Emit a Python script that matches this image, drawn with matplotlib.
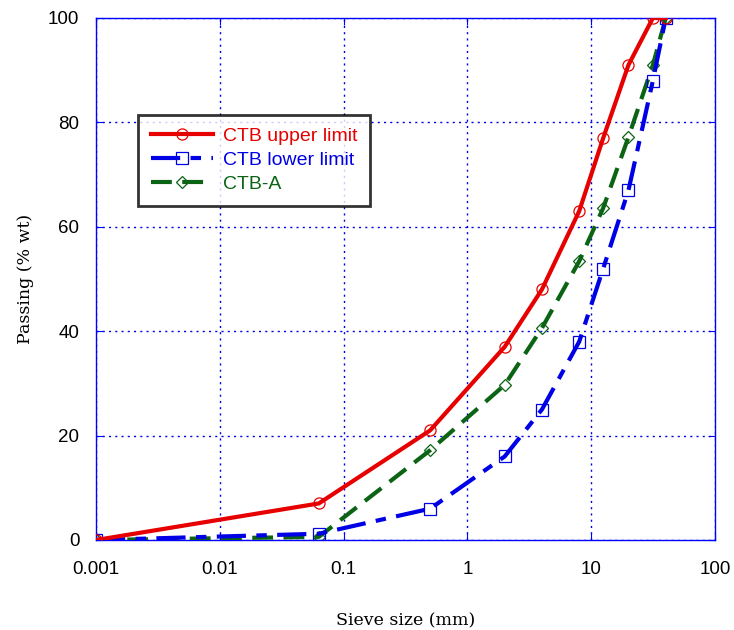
import matplotlib
matplotlib.use("Agg")
import matplotlib.pyplot as plt

sieve = [0.001, 0.063, 0.5, 2, 4, 8, 12.5, 20, 31.5, 40]
upper = [0, 7, 21, 37, 48, 63, 77, 91, 100, 100]
lower = [0, 1.2, 6, 16, 25, 38, 52, 67, 88, 100]
ctb_a = [0, 0.6, 17.2, 29.7, 40.6, 53.4, 63.6, 77.2, 91, 100]

xticks = [0.001, 0.01, 0.1, 1, 10, 100]
xticklabels = ["0.001", "0.01", "0.1", "1", "10", "100"]
yticks = [0, 20, 40, 60, 80, 100]

fig = plt.figure(figsize=(7.34, 6.3), dpi=100)
ax = fig.add_axes([96/734, 1-540/630, (715-96)/734, (540-18)/630])

ax.plot(sieve, upper, color="#e60000", lw=3, marker="o", ms=8, mfc="none",
        mec="#e60000", mew=0.9, label="CTB upper limit", zorder=5)
ax.plot(sieve, lower, color="#0000e6", lw=3, ls=(0, (7, 2.5, 2.5, 2.5)), marker="s", ms=9,
        mfc="none", mec="#0000e6", mew=0.9, label="CTB lower limit", zorder=4)
ax.plot(sieve, ctb_a, color="#0a6414", lw=3, ls=(0, (5, 2.5)), marker="D", ms=6,
        mfc="none", mec="#0a6414", mew=0.9, label="CTB-A", zorder=3)

ax.set_xscale("log")
ax.set_xlim(0.001, 100)
ax.set_ylim(0, 100)
ax.set_xticks(xticks)
ax.set_xticklabels(xticklabels)
ax.set_yticks(yticks)
ax.minorticks_off()
ax.grid(True, color="#0000e6", ls=(0, (1.5, 3)), lw=1)
for s in ax.spines.values():
    s.set_color("#0000ff")
    s.set_linewidth(1)
ax.tick_params(direction="in", colors="#0000ff", length=5, labelsize=13.5,
               labelcolor="black", top=True, right=True)
ax.tick_params(axis="y", pad=12)
ax.tick_params(axis="x", pad=15)
for lab in ax.get_xticklabels() + ax.get_yticklabels():
    lab.set_fontfamily("Liberation Sans")

ax.set_xlabel("Sieve size (mm)", fontfamily="DejaVu Serif", fontsize=12.5, labelpad=25)
ax.set_ylabel("Passing (% wt)", fontfamily="DejaVu Serif", fontsize=12.5, labelpad=10)

leg = ax.legend(loc="upper left", bbox_to_anchor=((138-96)/619, (540-115)/522),
                prop={"family": "Liberation Sans", "size": 14}, frameon=True,
                fancybox=False, edgecolor="black", handlelength=3.2,
                borderpad=0.65, labelspacing=0.32, handletextpad=0.5,
                borderaxespad=0)
leg.get_frame().set_linewidth(2)
for t, c in zip(leg.get_texts(), ["#e60000", "#0000e6", "#0a6414"]):
    t.set_color(c)

fig.savefig("out.png", dpi=100)
